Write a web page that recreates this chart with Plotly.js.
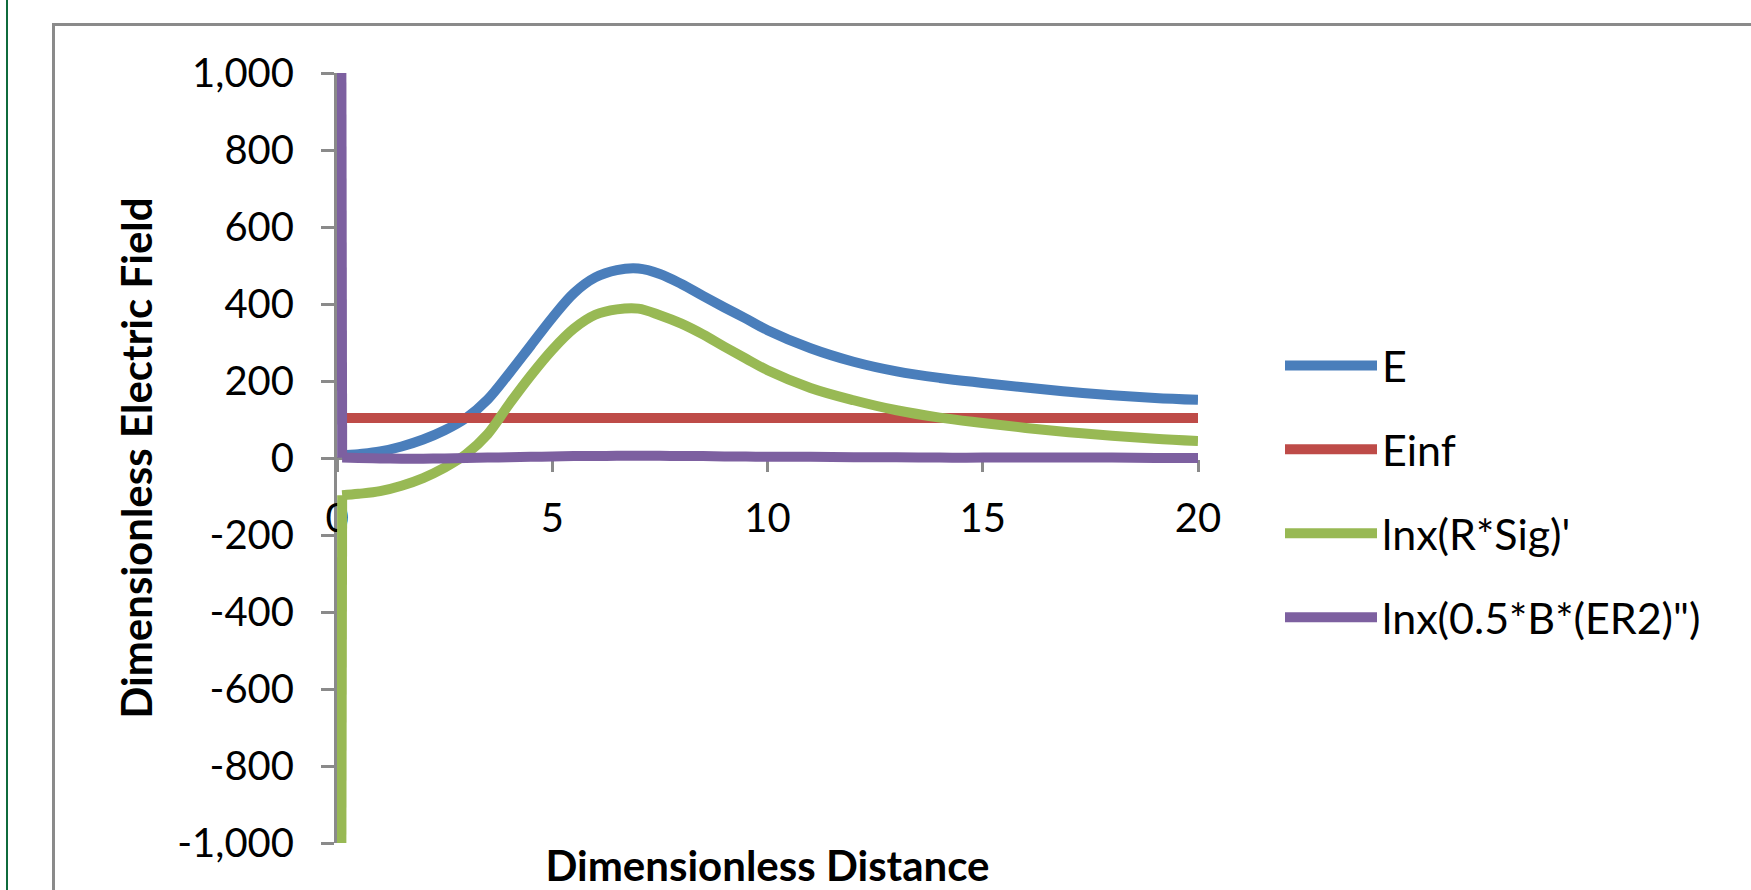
<!DOCTYPE html>
<html>
<head>
<meta charset="utf-8">
<script src="https://cdn.plot.ly/plotly-3.0.1.min.js"></script>
<style>
  html, body { margin: 0; padding: 0; background: #ffffff; width: 1751px; height: 890px; overflow: hidden; }
  #frame { position: absolute; left: 52px; top: 23px; width: 1800px; height: 1000px; border-left: 3px solid #8a8a8a; border-top: 3px solid #8a8a8a; box-sizing: border-box; }
  #edge { position: absolute; left: 6px; top: 0; width: 2px; height: 890px; background: #0f6b3c; }
  #chart { position: absolute; left: 0; top: 0; width: 1751px; height: 890px; }
</style>
</head>
<body>
<div id="edge"></div>
<div id="frame"></div>
<div id="chart"></div>
<script>
// Dimensionless distance (x) for the smooth curves
const xDist = [0.1, 0.12, 0.5, 1, 1.5, 2, 2.5, 3, 3.5, 4, 4.5, 5, 5.5, 6, 6.5, 7, 7.5, 8, 8.5, 9, 9.5, 10, 11, 12, 13, 14, 15, 16, 17, 18, 19, 20];

// Series values (first point of the two ln series is off-scale)
const seriesE     = [5, 6, 10, 17, 30, 48, 72, 104, 152, 220, 292, 364, 428, 469, 488, 492, 478, 452, 421, 391, 362, 332, 285, 250, 225, 208, 195, 183, 172, 163, 156, 151];
const seriesEinf  = [104, 104, 104, 104, 104, 104, 104, 104, 104, 104, 104, 104, 104, 104, 104, 104, 104, 104, 104, 104, 104, 104, 104, 104, 104, 104, 104, 104, 104, 104, 104, 104];
const seriesRSig  = [-1100, -97, -93, -86, -72, -52, -25, 10, 62, 140, 214, 281, 336, 372, 386, 388, 371, 349, 321, 289, 258, 228, 182, 150, 124, 105, 91, 78, 67, 58, 50, 44];
const seriesBER2  = [1100, 1, 0, -1, -2, -2, -1, 0, 1, 2, 3, 4, 5, 5, 6, 6, 6, 5, 5, 4, 4, 3, 3, 2, 2, 1, 1, 1, 1, 1, 0, 0];

const seriesNames = ["E", "Einf", "lnx(R*Sig)'", "lnx(0.5*B*(ER2)\")"];
const seriesColors = ["#4a7ebb", "#be4b48", "#98b954", "#7d60a0"];

// Axis tick labels
const xTickVals = [0, 5, 10, 15, 20];
const yTickVals = [-1000, -800, -600, -400, -200, 0, 200, 400, 600, 800, 1000];
const yTickText = ["-1,000", "-800", "-600", "-400", "-200", "0", "200", "400", "600", "800", "1,000"];

const allSeries = [seriesE, seriesEinf, seriesRSig, seriesBER2];
// Series whose first value is off-scale: the steep first segment is drawn straight,
// the rest as a smooth curve (same data, same legend group).
const steepStart = [false, false, true, true];

const traces = [];
allSeries.forEach((ys, i) => {
  const base = {
    type: "scatter",
    mode: "lines",
    name: seriesNames[i],
    legendgroup: "g" + i,
    hoverinfo: "skip"
  };
  if (steepStart[i]) {
    traces.push(Object.assign({}, base, {
      x: xDist.slice(1), y: ys.slice(1),
      line: { color: seriesColors[i], width: 10, shape: "spline", smoothing: 1 }
    }));
    traces.push(Object.assign({}, base, {
      x: xDist.slice(0, 2), y: ys.slice(0, 2),
      showlegend: false,
      line: { color: seriesColors[i], width: 10, shape: "linear" }
    }));
  } else {
    traces.push(Object.assign({}, base, {
      x: xDist, y: ys,
      line: { color: seriesColors[i], width: 10, shape: i === 1 ? "linear" : "spline", smoothing: 1 }
    }));
  }
});

const FONT = "Lato, 'Open Sans', sans-serif";

const layout = {
  width: 1751,
  height: 890,
  paper_bgcolor: "rgba(0,0,0,0)",
  plot_bgcolor: "rgba(0,0,0,0)",
  margin: { l: 337, r: 553, t: 73, b: 47, pad: 0 },
  font: { family: FONT, size: 40, color: "#000000" },
  showlegend: true,
  legend: {
    xref: "container", yref: "container",
    x: 1280 / 1751, y: 1 - 331 / 890,
    xanchor: "left", yanchor: "top",
    itemwidth: 92,
    tracegroupgap: 25,
    traceorder: "grouped",
    font: { family: FONT, size: 43, color: "#000000" },
    bgcolor: "rgba(0,0,0,0)",
    borderwidth: 0
  },
  xaxis: {
    range: [0, 20],
    tickvals: xTickVals,
    ticktext: xTickVals.map(String),
    anchor: "free",
    position: 0.5,
    showgrid: false,
    zeroline: false,
    showline: true,
    linecolor: "#8a8a8a",
    linewidth: 3,
    ticks: "outside",
    ticklen: 12,
    tickwidth: 3,
    tickcolor: "#8a8a8a",
    ticklabelstandoff: 12,
    tickfont: { family: FONT, size: 40, color: "#000000" },
    layer: "below traces",
    fixedrange: true,
    title: { text: "Dimensionless Distance", font: { family: FONT, size: 42, color: "#000000", weight: "bold" }, standoff: 312 }
  },
  yaxis: {
    range: [-1000, 1000],
    tickvals: yTickVals,
    ticktext: yTickText,
    showgrid: false,
    zeroline: false,
    showline: true,
    linecolor: "#8a8a8a",
    linewidth: 3,
    ticks: "outside",
    ticklen: 13,
    tickwidth: 3,
    tickcolor: "#8a8a8a",
    ticklabelstandoff: 19,
    tickfont: { family: FONT, size: 40, color: "#000000" },
    layer: "below traces",
    fixedrange: true,
    title: { text: "Dimensionless Electric Field", font: { family: FONT, size: 42, color: "#000000", weight: "bold" }, standoff: 12 }
  }
};

Plotly.newPlot("chart", traces, layout, { displayModeBar: false, staticPlot: true });
</script>
</body>
</html>
